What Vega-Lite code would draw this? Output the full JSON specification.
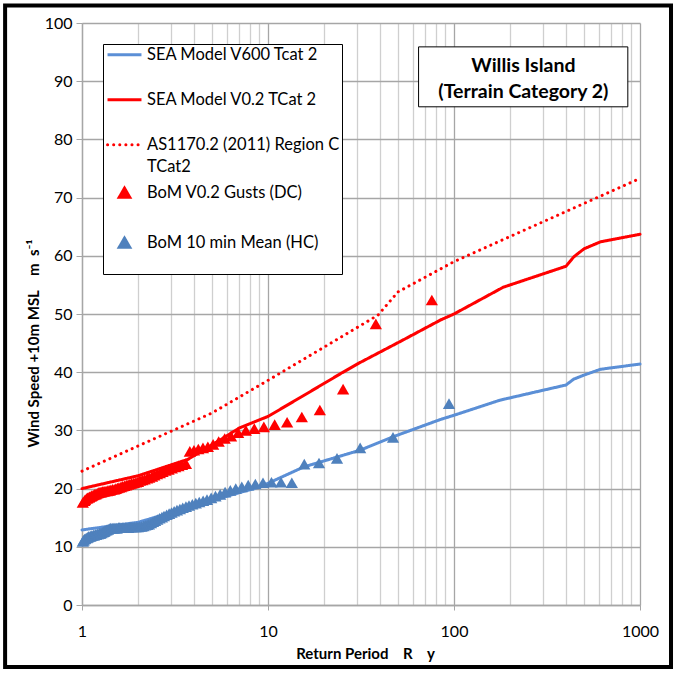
{
  "$schema": "https://vega.github.io/schema/vega-lite/v6.json",
  "width": 558,
  "height": 582,
  "autosize": {"type": "none"},
  "padding": {"left": 82, "top": 23, "right": 44, "bottom": 72},
  "background": "white",
  "config": {
    "font": "Lato",
    "view": {"stroke": null},
    "axis": {"labelFont": "Lato", "labelFontSize": 16, "labelColor": "#000", "titleFont": "Lato", "titleFontSize": 15, "titleFontWeight": "bold", "titleColor": "#000"},
    "legend": {
      "orient": "top-left", "offset": 21, "padding": 2.5,
      "strokeColor": "#000", "fillColor": "#fff",
      "labelFont": "Lato", "labelFontSize": 16.5, "labelColor": "#000", "labelLimit": 400, "labelOffset": 14.25,
      "symbolStrokeWidth": 3, "symbolOffset": 10.75, "rowPadding": 5.5,
      "titleOrient": "bottom", "titleFontSize": 12, "titlePadding": 7
    }
  },
  "datasets": {
    "lines": [
      {"series": "SEA Model V600 Tcat 2", "T": 1, "v": 12.9},
      {"series": "SEA Model V600 Tcat 2", "T": 2, "v": 14.2},
      {"series": "SEA Model V600 Tcat 2", "T": 4, "v": 17.0},
      {"series": "SEA Model V600 Tcat 2", "T": 7, "v": 19.3},
      {"series": "SEA Model V600 Tcat 2", "T": 9.1, "v": 20.3},
      {"series": "SEA Model V600 Tcat 2", "T": 15.5, "v": 23.7},
      {"series": "SEA Model V600 Tcat 2", "T": 31.3, "v": 26.6},
      {"series": "SEA Model V600 Tcat 2", "T": 47, "v": 28.9},
      {"series": "SEA Model V600 Tcat 2", "T": 85, "v": 31.9},
      {"series": "SEA Model V600 Tcat 2", "T": 100, "v": 32.6},
      {"series": "SEA Model V600 Tcat 2", "T": 177, "v": 35.2},
      {"series": "SEA Model V600 Tcat 2", "T": 400, "v": 37.8},
      {"series": "SEA Model V600 Tcat 2", "T": 440, "v": 38.8},
      {"series": "SEA Model V600 Tcat 2", "T": 500, "v": 39.5},
      {"series": "SEA Model V600 Tcat 2", "T": 613, "v": 40.5},
      {"series": "SEA Model V600 Tcat 2", "T": 1000, "v": 41.4},
      {"series": "SEA Model V0.2 TCat 2", "T": 1, "v": 20.0},
      {"series": "SEA Model V0.2 TCat 2", "T": 2, "v": 22.2},
      {"series": "SEA Model V0.2 TCat 2", "T": 3.7, "v": 25.0},
      {"series": "SEA Model V0.2 TCat 2", "T": 5, "v": 27.5},
      {"series": "SEA Model V0.2 TCat 2", "T": 7, "v": 30.4},
      {"series": "SEA Model V0.2 TCat 2", "T": 10, "v": 32.4},
      {"series": "SEA Model V0.2 TCat 2", "T": 15, "v": 35.7},
      {"series": "SEA Model V0.2 TCat 2", "T": 25, "v": 39.9},
      {"series": "SEA Model V0.2 TCat 2", "T": 31, "v": 41.6},
      {"series": "SEA Model V0.2 TCat 2", "T": 53, "v": 45.5},
      {"series": "SEA Model V0.2 TCat 2", "T": 85, "v": 49.0},
      {"series": "SEA Model V0.2 TCat 2", "T": 100, "v": 50.0},
      {"series": "SEA Model V0.2 TCat 2", "T": 184, "v": 54.6},
      {"series": "SEA Model V0.2 TCat 2", "T": 400, "v": 58.2},
      {"series": "SEA Model V0.2 TCat 2", "T": 440, "v": 59.8},
      {"series": "SEA Model V0.2 TCat 2", "T": 500, "v": 61.2},
      {"series": "SEA Model V0.2 TCat 2", "T": 613, "v": 62.4},
      {"series": "SEA Model V0.2 TCat 2", "T": 1000, "v": 63.7},
      {"series": "AS1170.2 (2011) Region C TCat2", "T": 1, "v": 23.0},
      {"series": "AS1170.2 (2011) Region C TCat2", "T": 5, "v": 33.0},
      {"series": "AS1170.2 (2011) Region C TCat2", "T": 10, "v": 38.6},
      {"series": "AS1170.2 (2011) Region C TCat2", "T": 20, "v": 44.3},
      {"series": "AS1170.2 (2011) Region C TCat2", "T": 39, "v": 49.8},
      {"series": "AS1170.2 (2011) Region C TCat2", "T": 50, "v": 53.8},
      {"series": "AS1170.2 (2011) Region C TCat2", "T": 100, "v": 59.0},
      {"series": "AS1170.2 (2011) Region C TCat2", "T": 200, "v": 63.3},
      {"series": "AS1170.2 (2011) Region C TCat2", "T": 500, "v": 69.0},
      {"series": "AS1170.2 (2011) Region C TCat2", "T": 1000, "v": 73.3}
    ],
    "points": [
      {"series": "BoM V0.2 Gusts (DC)", "T": 76.0, "v": 52.4},
      {"series": "BoM V0.2 Gusts (DC)", "T": 38.0, "v": 48.3},
      {"series": "BoM V0.2 Gusts (DC)", "T": 25.33, "v": 37.1},
      {"series": "BoM V0.2 Gusts (DC)", "T": 19.0, "v": 33.5},
      {"series": "BoM V0.2 Gusts (DC)", "T": 15.2, "v": 32.3},
      {"series": "BoM V0.2 Gusts (DC)", "T": 12.67, "v": 31.4},
      {"series": "BoM V0.2 Gusts (DC)", "T": 10.86, "v": 31.0},
      {"series": "BoM V0.2 Gusts (DC)", "T": 9.5, "v": 30.6},
      {"series": "BoM V0.2 Gusts (DC)", "T": 8.44, "v": 30.3},
      {"series": "BoM V0.2 Gusts (DC)", "T": 7.6, "v": 30.0},
      {"series": "BoM V0.2 Gusts (DC)", "T": 6.91, "v": 29.6},
      {"series": "BoM V0.2 Gusts (DC)", "T": 6.33, "v": 29.0},
      {"series": "BoM V0.2 Gusts (DC)", "T": 5.85, "v": 28.6},
      {"series": "BoM V0.2 Gusts (DC)", "T": 5.43, "v": 28.1},
      {"series": "BoM V0.2 Gusts (DC)", "T": 5.07, "v": 27.6},
      {"series": "BoM V0.2 Gusts (DC)", "T": 4.75, "v": 27.2},
      {"series": "BoM V0.2 Gusts (DC)", "T": 4.47, "v": 27.0},
      {"series": "BoM V0.2 Gusts (DC)", "T": 4.22, "v": 26.8},
      {"series": "BoM V0.2 Gusts (DC)", "T": 4.0, "v": 26.6},
      {"series": "BoM V0.2 Gusts (DC)", "T": 3.8, "v": 26.4},
      {"series": "BoM V0.2 Gusts (DC)", "T": 3.62, "v": 24.3},
      {"series": "BoM V0.2 Gusts (DC)", "T": 3.45, "v": 24.1},
      {"series": "BoM V0.2 Gusts (DC)", "T": 3.30, "v": 23.9},
      {"series": "BoM V0.2 Gusts (DC)", "T": 3.17, "v": 23.7},
      {"series": "BoM V0.2 Gusts (DC)", "T": 3.04, "v": 23.5},
      {"series": "BoM V0.2 Gusts (DC)", "T": 2.92, "v": 23.3},
      {"series": "BoM V0.2 Gusts (DC)", "T": 2.81, "v": 23.1},
      {"series": "BoM V0.2 Gusts (DC)", "T": 2.71, "v": 22.9},
      {"series": "BoM V0.2 Gusts (DC)", "T": 2.62, "v": 22.7},
      {"series": "BoM V0.2 Gusts (DC)", "T": 2.53, "v": 22.5},
      {"series": "BoM V0.2 Gusts (DC)", "T": 2.45, "v": 22.3},
      {"series": "BoM V0.2 Gusts (DC)", "T": 2.38, "v": 22.1},
      {"series": "BoM V0.2 Gusts (DC)", "T": 2.30, "v": 21.9},
      {"series": "BoM V0.2 Gusts (DC)", "T": 2.24, "v": 21.8},
      {"series": "BoM V0.2 Gusts (DC)", "T": 2.17, "v": 21.6},
      {"series": "BoM V0.2 Gusts (DC)", "T": 2.11, "v": 21.5},
      {"series": "BoM V0.2 Gusts (DC)", "T": 2.05, "v": 21.4},
      {"series": "BoM V0.2 Gusts (DC)", "T": 2.0, "v": 21.2},
      {"series": "BoM V0.2 Gusts (DC)", "T": 1.95, "v": 21.1},
      {"series": "BoM V0.2 Gusts (DC)", "T": 1.9, "v": 21.0},
      {"series": "BoM V0.2 Gusts (DC)", "T": 1.85, "v": 20.9},
      {"series": "BoM V0.2 Gusts (DC)", "T": 1.81, "v": 20.8},
      {"series": "BoM V0.2 Gusts (DC)", "T": 1.77, "v": 20.7},
      {"series": "BoM V0.2 Gusts (DC)", "T": 1.73, "v": 20.6},
      {"series": "BoM V0.2 Gusts (DC)", "T": 1.69, "v": 20.5},
      {"series": "BoM V0.2 Gusts (DC)", "T": 1.65, "v": 20.4},
      {"series": "BoM V0.2 Gusts (DC)", "T": 1.62, "v": 20.3},
      {"series": "BoM V0.2 Gusts (DC)", "T": 1.58, "v": 20.2},
      {"series": "BoM V0.2 Gusts (DC)", "T": 1.55, "v": 20.1},
      {"series": "BoM V0.2 Gusts (DC)", "T": 1.52, "v": 20.0},
      {"series": "BoM V0.2 Gusts (DC)", "T": 1.49, "v": 19.9},
      {"series": "BoM V0.2 Gusts (DC)", "T": 1.46, "v": 19.9},
      {"series": "BoM V0.2 Gusts (DC)", "T": 1.43, "v": 19.8},
      {"series": "BoM V0.2 Gusts (DC)", "T": 1.41, "v": 19.7},
      {"series": "BoM V0.2 Gusts (DC)", "T": 1.38, "v": 19.7},
      {"series": "BoM V0.2 Gusts (DC)", "T": 1.36, "v": 19.6},
      {"series": "BoM V0.2 Gusts (DC)", "T": 1.33, "v": 19.6},
      {"series": "BoM V0.2 Gusts (DC)", "T": 1.31, "v": 19.5},
      {"series": "BoM V0.2 Gusts (DC)", "T": 1.29, "v": 19.5},
      {"series": "BoM V0.2 Gusts (DC)", "T": 1.27, "v": 19.4},
      {"series": "BoM V0.2 Gusts (DC)", "T": 1.25, "v": 19.4},
      {"series": "BoM V0.2 Gusts (DC)", "T": 1.23, "v": 19.3},
      {"series": "BoM V0.2 Gusts (DC)", "T": 1.21, "v": 19.2},
      {"series": "BoM V0.2 Gusts (DC)", "T": 1.19, "v": 19.1},
      {"series": "BoM V0.2 Gusts (DC)", "T": 1.17, "v": 19.0},
      {"series": "BoM V0.2 Gusts (DC)", "T": 1.15, "v": 18.9},
      {"series": "BoM V0.2 Gusts (DC)", "T": 1.13, "v": 18.8},
      {"series": "BoM V0.2 Gusts (DC)", "T": 1.12, "v": 18.7},
      {"series": "BoM V0.2 Gusts (DC)", "T": 1.10, "v": 18.6},
      {"series": "BoM V0.2 Gusts (DC)", "T": 1.09, "v": 18.5},
      {"series": "BoM V0.2 Gusts (DC)", "T": 1.07, "v": 18.4},
      {"series": "BoM V0.2 Gusts (DC)", "T": 1.06, "v": 18.3},
      {"series": "BoM V0.2 Gusts (DC)", "T": 1.04, "v": 18.1},
      {"series": "BoM V0.2 Gusts (DC)", "T": 1.03, "v": 17.9},
      {"series": "BoM V0.2 Gusts (DC)", "T": 1.01, "v": 17.6},
      {"series": "BoM 10 min Mean (HC)", "T": 94, "v": 34.6},
      {"series": "BoM 10 min Mean (HC)", "T": 47, "v": 28.8},
      {"series": "BoM 10 min Mean (HC)", "T": 31.3, "v": 27.0},
      {"series": "BoM 10 min Mean (HC)", "T": 23.5, "v": 25.2},
      {"series": "BoM 10 min Mean (HC)", "T": 18.8, "v": 24.4},
      {"series": "BoM 10 min Mean (HC)", "T": 15.67, "v": 24.2},
      {"series": "BoM 10 min Mean (HC)", "T": 13.43, "v": 21.0},
      {"series": "BoM 10 min Mean (HC)", "T": 11.75, "v": 21.1},
      {"series": "BoM 10 min Mean (HC)", "T": 10.44, "v": 21.1},
      {"series": "BoM 10 min Mean (HC)", "T": 9.4, "v": 21.0},
      {"series": "BoM 10 min Mean (HC)", "T": 8.55, "v": 20.8},
      {"series": "BoM 10 min Mean (HC)", "T": 7.83, "v": 20.6},
      {"series": "BoM 10 min Mean (HC)", "T": 7.23, "v": 20.3},
      {"series": "BoM 10 min Mean (HC)", "T": 6.71, "v": 20.0},
      {"series": "BoM 10 min Mean (HC)", "T": 6.27, "v": 19.7},
      {"series": "BoM 10 min Mean (HC)", "T": 5.88, "v": 19.4},
      {"series": "BoM 10 min Mean (HC)", "T": 5.53, "v": 19.0},
      {"series": "BoM 10 min Mean (HC)", "T": 5.22, "v": 18.7},
      {"series": "BoM 10 min Mean (HC)", "T": 4.95, "v": 18.4},
      {"series": "BoM 10 min Mean (HC)", "T": 4.7, "v": 18.1},
      {"series": "BoM 10 min Mean (HC)", "T": 4.48, "v": 17.9},
      {"series": "BoM 10 min Mean (HC)", "T": 4.27, "v": 17.7},
      {"series": "BoM 10 min Mean (HC)", "T": 4.09, "v": 17.5},
      {"series": "BoM 10 min Mean (HC)", "T": 3.92, "v": 17.3},
      {"series": "BoM 10 min Mean (HC)", "T": 3.76, "v": 17.1},
      {"series": "BoM 10 min Mean (HC)", "T": 3.62, "v": 16.9},
      {"series": "BoM 10 min Mean (HC)", "T": 3.48, "v": 16.7},
      {"series": "BoM 10 min Mean (HC)", "T": 3.36, "v": 16.5},
      {"series": "BoM 10 min Mean (HC)", "T": 3.24, "v": 16.3},
      {"series": "BoM 10 min Mean (HC)", "T": 3.13, "v": 16.1},
      {"series": "BoM 10 min Mean (HC)", "T": 3.03, "v": 15.9},
      {"series": "BoM 10 min Mean (HC)", "T": 2.94, "v": 15.7},
      {"series": "BoM 10 min Mean (HC)", "T": 2.85, "v": 15.5},
      {"series": "BoM 10 min Mean (HC)", "T": 2.76, "v": 15.3},
      {"series": "BoM 10 min Mean (HC)", "T": 2.69, "v": 15.1},
      {"series": "BoM 10 min Mean (HC)", "T": 2.61, "v": 14.9},
      {"series": "BoM 10 min Mean (HC)", "T": 2.54, "v": 14.7},
      {"series": "BoM 10 min Mean (HC)", "T": 2.47, "v": 14.5},
      {"series": "BoM 10 min Mean (HC)", "T": 2.41, "v": 14.3},
      {"series": "BoM 10 min Mean (HC)", "T": 2.35, "v": 14.1},
      {"series": "BoM 10 min Mean (HC)", "T": 2.29, "v": 13.9},
      {"series": "BoM 10 min Mean (HC)", "T": 2.24, "v": 13.8},
      {"series": "BoM 10 min Mean (HC)", "T": 2.19, "v": 13.7},
      {"series": "BoM 10 min Mean (HC)", "T": 2.14, "v": 13.6},
      {"series": "BoM 10 min Mean (HC)", "T": 2.09, "v": 13.5},
      {"series": "BoM 10 min Mean (HC)", "T": 2.04, "v": 13.5},
      {"series": "BoM 10 min Mean (HC)", "T": 2.0, "v": 13.4},
      {"series": "BoM 10 min Mean (HC)", "T": 1.96, "v": 13.4},
      {"series": "BoM 10 min Mean (HC)", "T": 1.92, "v": 13.4},
      {"series": "BoM 10 min Mean (HC)", "T": 1.88, "v": 13.4},
      {"series": "BoM 10 min Mean (HC)", "T": 1.84, "v": 13.4},
      {"series": "BoM 10 min Mean (HC)", "T": 1.81, "v": 13.4},
      {"series": "BoM 10 min Mean (HC)", "T": 1.77, "v": 13.3},
      {"series": "BoM 10 min Mean (HC)", "T": 1.74, "v": 13.3},
      {"series": "BoM 10 min Mean (HC)", "T": 1.71, "v": 13.3},
      {"series": "BoM 10 min Mean (HC)", "T": 1.68, "v": 13.3},
      {"series": "BoM 10 min Mean (HC)", "T": 1.65, "v": 13.3},
      {"series": "BoM 10 min Mean (HC)", "T": 1.62, "v": 13.3},
      {"series": "BoM 10 min Mean (HC)", "T": 1.59, "v": 13.3},
      {"series": "BoM 10 min Mean (HC)", "T": 1.57, "v": 13.3},
      {"series": "BoM 10 min Mean (HC)", "T": 1.54, "v": 13.2},
      {"series": "BoM 10 min Mean (HC)", "T": 1.52, "v": 13.2},
      {"series": "BoM 10 min Mean (HC)", "T": 1.49, "v": 13.2},
      {"series": "BoM 10 min Mean (HC)", "T": 1.47, "v": 13.2},
      {"series": "BoM 10 min Mean (HC)", "T": 1.45, "v": 13.2},
      {"series": "BoM 10 min Mean (HC)", "T": 1.42, "v": 13.2},
      {"series": "BoM 10 min Mean (HC)", "T": 1.40, "v": 13.1},
      {"series": "BoM 10 min Mean (HC)", "T": 1.38, "v": 13.0},
      {"series": "BoM 10 min Mean (HC)", "T": 1.36, "v": 12.9},
      {"series": "BoM 10 min Mean (HC)", "T": 1.34, "v": 12.8},
      {"series": "BoM 10 min Mean (HC)", "T": 1.32, "v": 12.7},
      {"series": "BoM 10 min Mean (HC)", "T": 1.31, "v": 12.6},
      {"series": "BoM 10 min Mean (HC)", "T": 1.29, "v": 12.5},
      {"series": "BoM 10 min Mean (HC)", "T": 1.27, "v": 12.4},
      {"series": "BoM 10 min Mean (HC)", "T": 1.25, "v": 12.3},
      {"series": "BoM 10 min Mean (HC)", "T": 1.24, "v": 12.3},
      {"series": "BoM 10 min Mean (HC)", "T": 1.22, "v": 12.2},
      {"series": "BoM 10 min Mean (HC)", "T": 1.21, "v": 12.2},
      {"series": "BoM 10 min Mean (HC)", "T": 1.19, "v": 12.1},
      {"series": "BoM 10 min Mean (HC)", "T": 1.18, "v": 12.1},
      {"series": "BoM 10 min Mean (HC)", "T": 1.16, "v": 12.0},
      {"series": "BoM 10 min Mean (HC)", "T": 1.15, "v": 12.0},
      {"series": "BoM 10 min Mean (HC)", "T": 1.13, "v": 11.9},
      {"series": "BoM 10 min Mean (HC)", "T": 1.12, "v": 11.9},
      {"series": "BoM 10 min Mean (HC)", "T": 1.11, "v": 11.8},
      {"series": "BoM 10 min Mean (HC)", "T": 1.09, "v": 11.8},
      {"series": "BoM 10 min Mean (HC)", "T": 1.08, "v": 11.7},
      {"series": "BoM 10 min Mean (HC)", "T": 1.07, "v": 11.6},
      {"series": "BoM 10 min Mean (HC)", "T": 1.06, "v": 11.5},
      {"series": "BoM 10 min Mean (HC)", "T": 1.04, "v": 11.4},
      {"series": "BoM 10 min Mean (HC)", "T": 1.03, "v": 11.3},
      {"series": "BoM 10 min Mean (HC)", "T": 1.02, "v": 11.1},
      {"series": "BoM 10 min Mean (HC)", "T": 1.01, "v": 10.9}
    ]
  },
  "layer": [
    {
      "data": {"name": "lines"},
      "mark": {"type": "line", "strokeWidth": 3, "strokeCap": "round"},
      "encoding": {
        "x": {
          "field": "T", "type": "quantitative",
          "scale": {"type": "log", "domain": [1, 1000], "nice": false},
          "axis": {
            "title": "Return Period\u00a0\u00a0\u00a0\u00a0R\u00a0\u00a0\u00a0\u00a0y",
            "titleX": 283,
            "values": [1,2,3,4,5,6,7,8,9,10,20,30,40,50,60,70,80,90,100,200,300,400,500,600,700,800,900,1000],
            "labelExpr": "indexof([1,10,100,1000], datum.value) >= 0 ? format(datum.value, 'd') : ''",
            "gridColor": {"condition": {"test": "indexof([1,10,100,1000], datum.value) >= 0", "value": "#a6a6a6"}, "value": "#cfcfcf"},
            "gridWidth": 1.3,
            "tickOpacity": {"condition": {"test": "indexof([1,10,100,1000], datum.value) >= 0", "value": 1}, "value": 0},
            "tickColor": "#a6a6a6", "tickSize": 5,
            "domainColor": "#a6a6a6", "domainWidth": 1.3,
            "labelPadding": 13, "titlePadding": 7, "labelFlush": false
          }
        },
        "y": {
          "field": "v", "type": "quantitative",
          "scale": {"domain": [0, 100], "nice": false},
          "axis": {
            "title": "Wind Speed +10m MSL\u00a0\u00a0\u00a0\u00a0m\u00a0\u00a0s⁻¹",
            "titleY": 320,
            "values": [0,10,20,30,40,50,60,70,80,90,100],
            "gridColor": "#a6a6a6", "gridWidth": 1.3,
            "tickColor": "#a6a6a6", "tickSize": 6,
            "domainColor": "#a6a6a6", "domainWidth": 1.3,
            "labelPadding": 4, "titlePadding": 3
          }
        },
        "color": {
          "field": "series", "type": "nominal",
          "scale": {
            "domain": ["SEA Model V600 Tcat 2", "gap1", "SEA Model V0.2 TCat 2", "gap2", "AS1170.2 (2011) Region C TCat2", "TCat2", "BoM V0.2 Gusts (DC)", "gap3", "BoM 10 min Mean (HC)"],
            "range": ["#5b8fd6", "#ffffff", "#ff0000", "#ffffff", "#ff0000", "#ffffff", "#ff0000", "#ffffff", "#4f81bd"]
          },
          "legend": {
            "title": " ",
            "labelExpr": "indexof(['gap1', 'gap2', 'gap3'], datum.value) >= 0 ? ' ' : datum.value == 'AS1170.2 (2011) Region C TCat2' ? 'AS1170.2 (2011) Region C' : datum.label",
            "encode": {
              "symbols": {
                "update": {
                  "shape": {"signal": "indexof(['BoM V0.2 Gusts (DC)', 'BoM 10 min Mean (HC)'], datum.value) >= 0 ? 'triangle-up' : 'M-3,0H3'"},
                  "size": {"signal": "indexof(['BoM V0.2 Gusts (DC)', 'BoM 10 min Mean (HC)'], datum.value) >= 0 ? 110 : 128"},
                  "fill": {"signal": "datum.value == 'BoM V0.2 Gusts (DC)' ? '#ff0000' : datum.value == 'BoM 10 min Mean (HC)' ? '#4f81bd' : 'transparent'"},
                  "stroke": {"signal": "datum.value == 'SEA Model V600 Tcat 2' ? '#5b8fd6' : (datum.value == 'SEA Model V0.2 TCat 2' || datum.value == 'AS1170.2 (2011) Region C TCat2') ? '#ff0000' : 'transparent'"},
                  "strokeWidth": {"value": 3},
                  "strokeCap": {"signal": "datum.value == 'AS1170.2 (2011) Region C TCat2' ? 'round' : 'butt'"},
                  "strokeDash": {"signal": "datum.value == 'AS1170.2 (2011) Region C TCat2' ? [0.1, 6] : [1, 0]"}
                }
              }
            }
          }
        },
        "strokeDash": {
          "field": "series", "type": "nominal",
          "scale": {
            "domain": ["SEA Model V600 Tcat 2", "SEA Model V0.2 TCat 2", "AS1170.2 (2011) Region C TCat2"],
            "range": [[1, 0], [1, 0], [0.1, 6]]
          },
          "legend": null
        }
      }
    },
    {
      "data": {"name": "points"},
      "mark": {"type": "point", "shape": "triangle-up", "filled": true, "size": 150, "opacity": 1},
      "encoding": {
        "x": {"field": "T", "type": "quantitative"},
        "y": {"field": "v", "type": "quantitative"},
        "color": {"field": "series", "type": "nominal"}
      }
    },
    {
      "data": {"values": [{"label": "Willis Island"}]},
      "mark": {"type": "rect", "fill": "white", "stroke": "#000", "strokeWidth": 1},
      "encoding": {
        "x": {"datum": 64.5, "type": "quantitative"},
        "x2": {"datum": 860},
        "y": {"datum": 95.9, "type": "quantitative"},
        "y2": {"datum": 85.6}
      }
    },
    {
      "data": {"values": [{"label": "Willis Island", "line": 1}, {"label": "(Terrain Category 2)", "line": 2}]},
      "mark": {"type": "text", "font": "Lato", "fontSize": 19.5, "fontWeight": "bold", "color": "#000", "align": "center", "baseline": "middle", "dy": -13},
      "encoding": {
        "x": {"datum": 236, "type": "quantitative"},
        "y": {"datum": 90.4, "type": "quantitative"},
        "yOffset": {"field": "line", "type": "quantitative", "scale": {"domain": [1, 2], "range": [0, 26]}, "legend": null},
        "text": {"field": "label"}
      }
    },
    {
      "data": {"values": [{"label": "chart area"}]},
      "mark": {"type": "rect", "fill": null, "filled": false, "stroke": "#000", "strokeWidth": 4, "clip": false},
      "encoding": {
        "x": {"datum": 0.386, "type": "quantitative"},
        "x2": {"datum": 1468},
        "y": {"datum": 103.0, "type": "quantitative"},
        "y2": {"datum": -10.65}
      }
    }
  ]
}
